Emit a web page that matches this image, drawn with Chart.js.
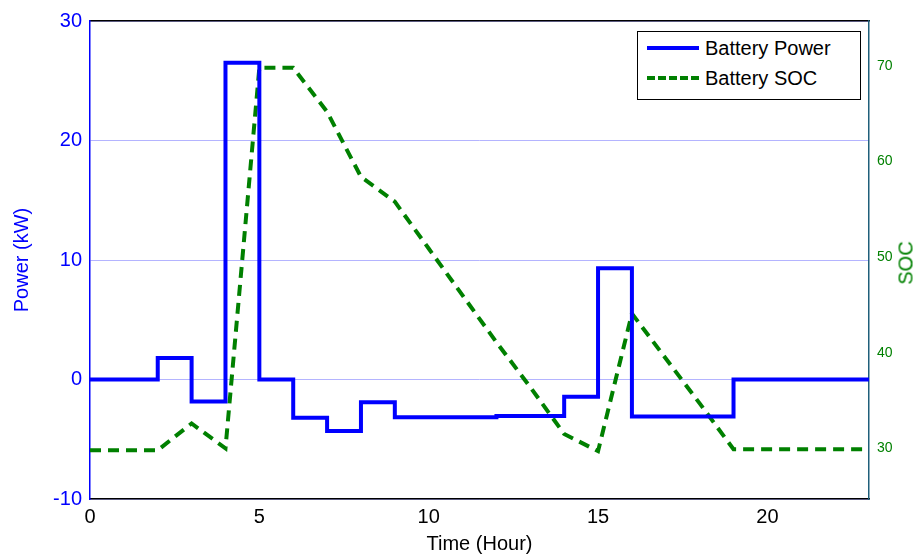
<!DOCTYPE html>
<html>
<head>
<meta charset="utf-8">
<script src="https://cdn.jsdelivr.net/npm/chart.js@4/dist/chart.umd.min.js"></script>
<style>
  body { margin: 0; background: #fff; }
  #wrap { position: relative; width: 919px; height: 558px; }
  #legend {
    position: absolute; left: 637px; top: 31px; width: 224px; height: 69px;
    border: 1px solid #000; background: #fff; box-sizing: border-box;
    font-family: "Liberation Sans", Arial, sans-serif; font-size: 20px; color: #000;
  }
  .row { position: absolute; left: 9px; height: 24px; line-height: 24px; }
  .row span { position: absolute; left: 58px; top: 0; white-space: nowrap; }
  .sample { position: absolute; left: 0; top: 10px; width: 52px; height: 0; }
  #socTitle {
    position: absolute; left: 906px; top: 263px; transform: translate(-50%, -50%) rotate(-90deg);
    font-family: "Liberation Sans", Arial, sans-serif; font-size: 20px; color: #008000; white-space: nowrap;
  }
</style>
</head>
<body>
<div id="wrap">
  <canvas id="c" width="919" height="558"></canvas>
  <div id="legend">
    <div class="row" style="top:4px"><div class="sample" style="border-top:4px solid #0000ff"></div><span>Battery Power</span></div>
    <div class="row" style="top:34px"><div class="sample" style="border-top:4px dashed #008000"></div><span>Battery SOC</span></div>
  </div>
  <div id="socTitle">SOC</div>
</div>
<script>
// hours 0..23, power value holds from hour h to h+1
var hours = [0,1,2,3,4,5,6,7,8,9,10,11,12,13,14,15,16,17,18,19,20,21,22,23];
var batteryPower = [0,0,1.8,-1.85,26.5,0,-3.2,-4.3,-1.9,-3.15,-3.15,-3.15,-3.05,-3.05,-1.45,9.3,-3.1,-3.1,-3.1,0,0,0,0,0];
var batterySoc = [29.8,29.8,29.8,32.6,30,69.8,69.8,65.2,58.4,55.8,50.9,46.0,41.1,36.4,31.5,29.7,44.1,39.4,34.7,29.9,29.9,29.9,29.9,29.9];
var xTicks = [0,5,10,15,20];
var powerTicks = [-10,0,10,20,30];
var socTicks = [30,40,50,60,70];

var font = "'Liberation Sans', Arial, sans-serif";

function pts(ys){
  return hours.map(function(h,i){ return {x:h, y:ys[i]}; });
}
function fixTicks(list){
  return function(scale){ scale.ticks = list.map(function(v){ return {value:v}; }); };
}

new Chart(document.getElementById("c"), {
  type: 'line',
  data: {
    datasets: [{
      label: "Battery Power",
      data: pts(batteryPower),
      yAxisID: 'y',
      borderColor: "#0000ff",
      borderWidth: 4,
      stepped: 'before',
      pointRadius: 0,
      fill: false
    }, {
      label: "Battery SOC",
      data: pts(batterySoc),
      yAxisID: 'y1',
      borderColor: "#008000",
      borderWidth: 4,
      borderDash: [11, 7],
      tension: 0,
      pointRadius: 0,
      fill: false
    }]
  },
  options: {
    responsive: false,
    animation: false,
    layout: { padding: { top: 21, left: 0, right: 0, bottom: 0 } },
    plugins: { legend: { display: false }, tooltip: { enabled: false } },
    scales: {
      x: {
        type: 'linear', min: 0, max: 23,
        afterBuildTicks: fixTicks(xTicks),
        afterFit: function(s){ s.height = 59; },
        grid: { display: false },
        border: { color: '#000', width: 1.5 },
        ticks: { color: '#000', font: { family: font, size: 20 }, padding: -2, maxRotation: 0 },
        title: { display: true, text: 'Time (Hour)', color: '#000', font: { family: font, size: 20 }, padding: { top: 0, bottom: 2 } }
      },
      xTop: {
        type: 'linear', position: 'top', min: 0, max: 23,
        afterFit: function(s){ s.height = 0; },
        grid: { display: false },
        border: { color: '#000', width: 1.5 },
        ticks: { display: false }
      },
      y: {
        position: 'left', min: -10, max: 30,
        afterBuildTicks: fixTicks(powerTicks),
        afterFit: function(s){ s.width = 90; },
        grid: { color: '#b4b4ff', lineWidth: 1, drawTicks: false },
        border: { color: '#0000ff', width: 1.5 },
        ticks: { color: '#0000ff', font: { family: font, size: 20 }, padding: 8 },
        title: { display: true, text: 'Power (kW)', color: '#0000ff', font: { family: font, size: 20 }, padding: { top: 10, bottom: 0 } }
      },
      y1: {
        position: 'right', min: 24.7, max: 74.7,
        afterBuildTicks: fixTicks(socTicks),
        afterFit: function(s){ s.width = 50; },
        grid: { display: false },
        border: { color: '#1f5f7a', width: 1.5 },
        ticks: { color: '#008000', font: { family: font, size: 14 }, padding: 0 }
      }
    }
  }
});
</script>
</body>
</html>
